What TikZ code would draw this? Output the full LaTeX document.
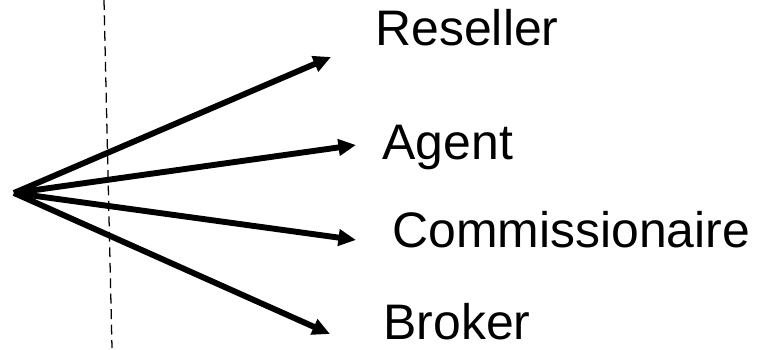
\documentclass[tikz,border=0pt]{standalone}
\usepackage{fontspec}
\setmainfont{Liberation Sans}
\usepackage{tikz}
\usetikzlibrary{arrows.meta,positioning}
\tikzset{
  branch/.style={-{Triangle[length=4.4mm,width=4mm]},line width=4.2pt,draw=black},
  divider/.style={draw=black,line width=0.9pt,dash pattern=on 7pt off 4pt},
  role/.style={anchor=base west,inner sep=0pt,font=\fontsize{35.5}{42}\selectfont}
}

\begin{document}
\begin{tikzpicture}[x=1cm,y=1cm]
  \useasboundingbox (0,0) rectangle (18.95,8.75);

  % the separating line
  \coordinate (top) at (2.6,8.75);
  \coordinate (bottom) at (2.8,0.05);
  \draw[divider] (top) -- (bottom);

  % fan of roles
  \coordinate (hub) at (0.35,3.925);
  \coordinate (resellertip) at (8.275,7.325);
  \coordinate (agenttip) at (8.9,5.125);
  \coordinate (commtip) at (8.9,2.75);
  \coordinate (brokertip) at (8.25,0.4);

  \node[role] (reseller) at (9.38,7.6) {Reseller};
  \node[role] (agent) at (9.56,4.77) {Agent};
  \node[role] (comm) at (9.8,2.57) {Commissionaire};
  \node[role] (broker) at (9.58,0.26) {Broker};

  \draw[branch] (hub) -- (resellertip);
  \draw[branch] (hub) -- (agenttip);
  \draw[branch] (hub) -- (commtip);
  \draw[branch] (hub) -- (brokertip);
\end{tikzpicture}
\end{document}
